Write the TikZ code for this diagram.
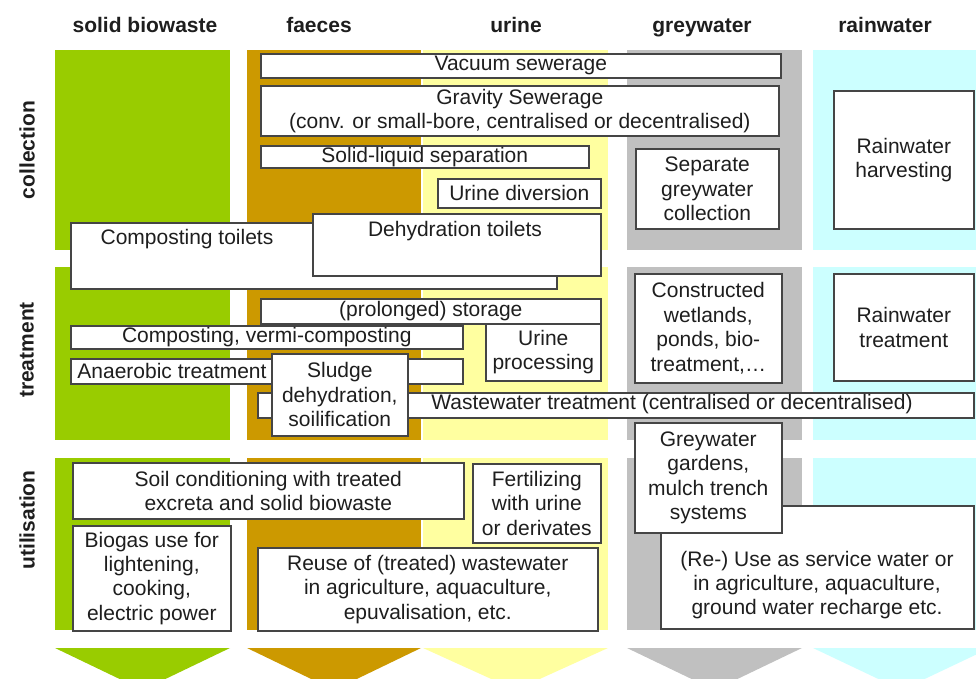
\documentclass[tikz,border=0pt]{standalone}
\usepackage{fontspec}
\setmainfont{Liberation Sans}
\usepackage{xcolor}
\usetikzlibrary{positioning}

\definecolor{biogreen}{HTML}{99CC00}
\definecolor{faecesbrown}{HTML}{CC9900}
\definecolor{urineyellow}{HTML}{FFFFA0}
\definecolor{greyband}{HTML}{C0C0C0}
\definecolor{raincyan}{HTML}{CCFFFF}
\definecolor{boxline}{HTML}{454545}
\definecolor{boxtext}{HTML}{1E1E1E}

\begin{document}
\begin{tikzpicture}[
    x=0.5pt, y=-0.5pt,
    font=\fontsize{10.5}{12.2}\selectfont,
    every node/.style={inner sep=0pt, text=boxtext},
    size/.style 2 args={minimum width=#1*0.5pt, minimum height=#2*0.5pt},
    unit/.style={draw=boxline, fill=white, line width=0.8pt, anchor=north west, align=center},
    head/.style={font=\fontsize{10.5}{12.2}\selectfont\bfseries, anchor=base},
    phase/.style={font=\fontsize{10.5}{12.2}\selectfont\bfseries, rotate=90}
  ]

  % Page
  \clip (0,0) rectangle (976,679);
  \fill[white] (0,0) rectangle (976,679);

  % Colour bands per stream: collection, treatment, utilisation, outflow
  \foreach \xl/\xr/\col in {55/230/biogreen, 247/421/faecesbrown, 423/608/urineyellow, 627/802/greyband, 813/990/raincyan} {
    \fill[\col] (\xl,50) rectangle (\xr,250);
    \fill[\col] (\xl,267) rectangle (\xr,440);
    \fill[\col] (\xl,458) rectangle (\xr,630);
    \fill[\col] (\xl,648) -- (\xr,648) -- ({(\xl+\xr)/2},690) -- cycle;
  }

  % Headers
  \node[head] (hbio) at (145,33) {solid biowaste};
  \node[head] (hfaeces) at (319,33) {faeces};
  \node[head] (hurine) at (516,33) {urine};
  \node[head] (hgrey) at (702,33) {greywater};
  \node[head] (hrain) at (885,33) {rainwater};

  \node[phase] (pcollect) at (27,150) {collection};
  \node[phase] (ptreat) at (27,350) {treatment};
  \node[phase] (putil) at (27,520) {utilisation};

  % Row 1: Collection
  \node[unit, size={520}{24}] (vacuum) at (260,53) {Vacuum sewerage};
  \node[unit, size={518}{50}] (gravity) at (260,85) {Gravity Sewerage\\(conv. or small-bore, centralised or decentralised)};
  \node[unit, size={328}{22}] (solidliquid) at (260,145) {Solid-liquid separation};
  \node[unit, size={163}{29}] (diversion) at (437,178) {Urine diversion};
  \node[unit, size={143}{80}] (sepgrey) at (635,148) {Separate\\greywater\\collection};
  \node[unit, size={140}{138}] (harvest) at (833,90) {Rainwater\\harvesting};
  \node[unit, size={486}{66}] (comptoilet) at (70,222) {};
  \node (comptext) at (187,239) {Composting toilets};
  \node[unit, size={288}{62}] (dehydtoilet) at (312,213) {};
  \node (dehydtext) at (455,231) {Dehydration toilets};

  % Row 2: Treatment
  \node[unit, size={340}{25}] (storage) at (260,298) {(prolonged) storage};
  \node[unit, size={392}{23}] (vermi) at (70,325) {Composting, vermi-composting};
  \node[unit, size={115}{57}] (uprocess) at (485,323) {Urine\\processing};
  \node[unit, size={392}{25}] (anaerobic) at (70,358) {};
  \node[anchor=west] (anaerotext) at (77,371) {Anaerobic treatment};
  \node[unit, size={716}{25}] (wastewater) at (257,392) {};
  \node (wastetext) at (672,404) {Wastewater treatment (centralised or decentralised)};
  \node[unit, size={136}{82}] (sludge) at (271,353) {Sludge\\dehydration,\\soilification};
  \node[unit, size={147}{109}] (wetlands) at (634,273) {Constructed\\wetlands,\\ponds, bio-\\treatment,\dots};
  \node[unit, size={140}{107}] (raintreat) at (833,273) {Rainwater\\treatment};

  % Row 3: Utilisation
  \node[unit, size={391}{56}] (soil) at (72,462) {Soil conditioning with treated\\excreta and solid biowaste};
  \node[unit, size={128}{79}] (fertilize) at (472,463) {Fertilizing\\with urine\\or derivates};
  \node[unit, size={158}{105}] (biogas) at (72,525) {Biogas use for\\lightening,\\cooking,\\electric power};
  \node[unit, size={340}{83}] (reuse) at (257,547) {Reuse of (treated) wastewater\\in agriculture, aquaculture,\\epuvalisation, etc.};
  \node[unit, size={313}{123}] (service) at (660,505) {};
  \node[align=center] (servicetext) at (817,585) {(Re-) Use as service water or\\in agriculture, aquaculture,\\ground water recharge etc.};
  \node[unit, size={147}{110}] (gardens) at (634,422) {Greywater\\gardens,\\mulch trench\\systems};

\end{tikzpicture}
\end{document}
